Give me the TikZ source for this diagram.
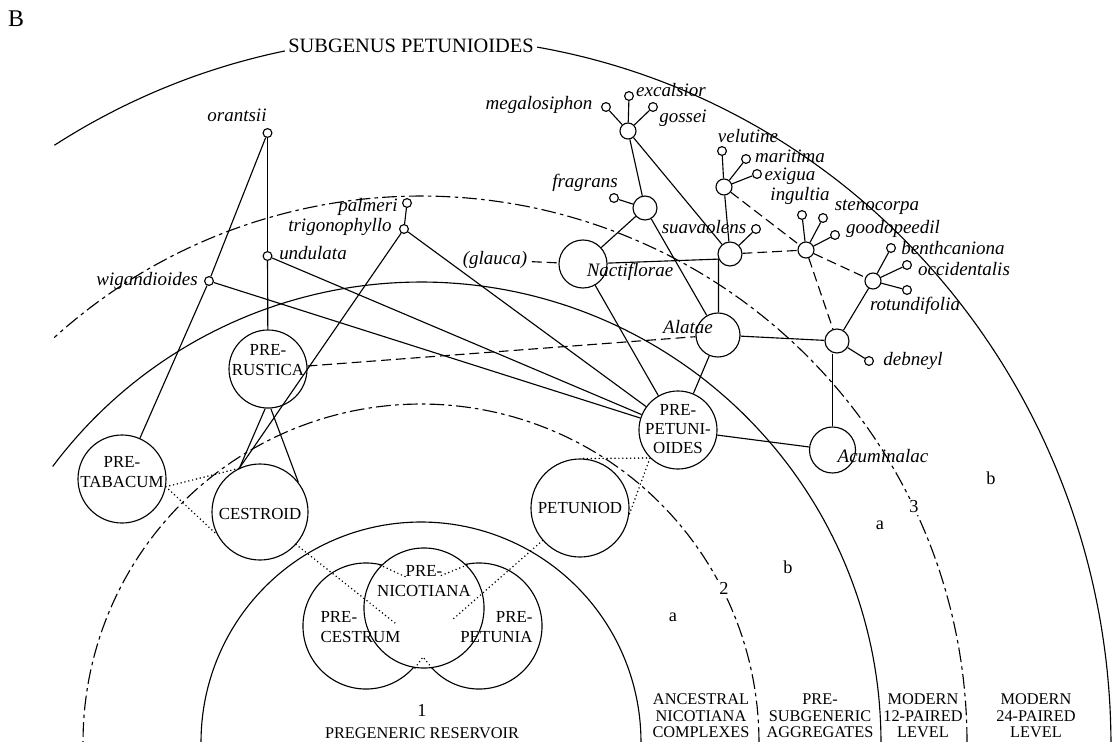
\documentclass[tikz,border=0pt]{standalone}
\usepackage{fontspec}
\setmainfont{Liberation Serif}
\begin{document}
\begin{tikzpicture}[x=0.025cm, y=-0.025cm, line width=0.8pt,
    pool/.style={circle, draw, inner sep=0pt, minimum size=#1},
    leaf/.style={circle, draw, inner sep=0pt, minimum size=0.22cm},
    sp/.style={font=\fontsize{13.5}{15}\selectfont\itshape, inner sep=0pt},
    caps/.style={font=\fontsize{12}{13.6}\selectfont, align=center, inner sep=0pt},
    foot/.style={font=\fontsize{11.6}{11.8}\selectfont, align=center, inner sep=0pt},
    zone/.style={font=\fontsize{13}{15}\selectfont, inner sep=0pt},
    dashlink/.style={dash pattern=on 7pt off 3.5pt},
    dotlink/.style={line width=1.2pt, line cap=round, dash pattern=on 0pt off 2.8pt},
    ringdash/.style={dash pattern=on 10.5pt off 3pt on 2.5pt off 3pt}]

\useasboundingbox (0,0) rectangle (1112,742);

 \def\ox{421}
 \def\oy{742}

%rings
 \draw plot[domain=0:180, samples=100] ({\ox+220*cos(\x)}, {\oy-220*sin(\x)});
 \draw[ringdash] plot[domain=0:180, samples=120] ({\ox+338*cos(\x)}, {\oy-338*sin(\x)});
 \draw plot[domain=0:143.2, samples=120] ({\ox+460*cos(\x)}, {\oy-460*sin(\x)});
 \draw[ringdash] plot[domain=0:132.2, samples=140] ({\ox+546*cos(\x)}, {\oy-546*sin(\x)});
 \draw plot[domain=0:122.1, samples=160] ({\ox+690*cos(\x)}, {745-708*sin(\x)});

 \node[zone, fill=white, inner sep=1.5pt] (two) at (724,588) {2};
 \node[zone, fill=white, inner sep=1.5pt] (three) at (914,507) {3};
 \node[font=\fontsize{14.5}{16}\selectfont, fill=white, inner sep=2.5pt] (subgenus) at (411,46) {SUBGENUS PETUNIOIDES};
 \node[font=\fontsize{17}{20}\selectfont, inner sep=0pt] (panel) at (16,19) {B};

    \foreach \name/\px/\py/\txt in {za1/673/617/a, zb1/788/567/b, za2/880/525/a, zb2/991/478/b, one/422/710/1}{
         \node[zone] (\name) at (\px,\py) {\txt};
    }

%levels
 \node[foot] (reservoir) at (422,733) {PREGENERIC RESERVOIR};
 \node[foot] (colA) at (701,716) {ANCESTRAL\\NICOTIANA\\COMPLEXES};
 \node[foot] (colB) at (820,716) {PRE-\\SUBGENERIC\\AGGREGATES};
 \node[foot] (colC) at (923,716) {MODERN\\12-PAIRED\\LEVEL};
 \node[foot] (colD) at (1036,716) {MODERN\\24-PAIRED\\LEVEL};

%reservoir
 \node[pool=3.15cm] (cestrum) at (366,626) {};
 \node[pool=3.15cm] (petunia) at (479,626) {};
 \node[pool=3.0cm, fill=white] (nico) at (424,608) {};
 \node[caps] (tnico) at (424,581) {PRE-\\NICOTIANA};
 \node[caps, anchor=west, align=left] (tcestrum) at (320,627) {PRE-\\CESTRUM};
 \node[caps, anchor=east, align=right] (tpetunia) at (533,627) {PRE-\\PETUNIA};

%pools
    \foreach \name/\px/\py/\sz in {tab/122/479/2.2cm, rust/268/369/1.95cm, cest/260/512/2.4cm, petuniod/580/508/2.45cm,
                                   prepet/678/430/1.95cm, nact/583/264/1.2cm, alat/718/335/1.1cm, acum/832.5/450/1.15cm}{
         \node[pool=\sz] (\name) at (\px,\py) {};
    }
 \node[caps] (ttab) at (122,472) {PRE-\\TABACUM};
 \node[caps] (trust) at (268,360) {PRE-\\RUSTICA};
 \node[caps] (tcest) at (260,514) {CESTROID};
 \node[caps] (tpetuniod) at (580,508) {PETUNIOD};
 \node[caps] (tprepet) at (678,429) {PRE-\\PETUNI-\\OIDES};

%hubs
    \foreach \name/\px/\py/\sz in {hmeg/628/131/0.4cm, hfra/645/208/0.6cm, hsua/730/254/0.6cm, hvel/724/187/0.4cm,
                                   hing/806/250/0.4cm, hben/873/281/0.4cm, hdeb/837/341/0.6cm}{
         \node[pool=\sz] (\name) at (\px,\py) {};
    }

%leaves
    \foreach \name/\px/\py in {orantsii/267.5/133, undulata/267.5/256, wig/209/281, palmeri/407/203, trig/404/229,
                               megal/606/107, excal/629/96, gossei/653/107, fragr/614/198, suavl/756/229,
                               velut/722/151, marit/746/159, exig/757/174, ingul/802/215, steno/823/218, goodo/835/235,
                               benth/891/248, occid/907/265, rotun/907/290, debne/869/361}{
         \node[leaf] (\name) at (\px,\py) {};
    }

%names
    \foreach \name/\px/\py/\txt in {lorantsii/237/115/orantsii, lundulata/313/253/undulata, lwig/147/281/wigandioides,
                                    lpalmeri/368/207/palmeri, ltrig/340/227/trigonophyllo, lglauca/495/260/{(glauca)},
                                    lmegal/539/105/megalosiphon, lexcal/671/90/excalsior, lgossei/683/118/gossei,
                                    lfragr/585/183/fragrans, lnact/630/272/Nactiflorae, lsuavl/704/227/suavaolens,
                                    lvelut/748/136/velutine, lmarit/790/156/maritima, lexig/790/176/exigua,
                                    lingul/800/196/ingultia, lsteno/877/207/stenocorpa, lgoodo/893/229/goodopeedil,
                                    lbenth/953/248/benthcaniona, loccid/964/269/occidentalis, lrotun/915/306/rotundifolia,
                                    ldebne/913/361/debneyl, lalat/688/327/Alatae, lacum/883/456/Acuminalac}{
         \node[sp] (\name) at (\px,\py) {\txt};
    }

%links
    \foreach \a/\b in {hmeg/megal, hmeg/excal, hmeg/gossei, hvel/velut, hvel/marit, hvel/exig,
                       hing/ingul, hing/steno, hing/goodo, hben/benth, hben/occid, hben/rotun,
                       hdeb/debne, hsua/suavl, hfra/fragr, trig/palmeri,
                       hmeg/hfra, hmeg/hsua, hfra/nact, hfra/alat, nact/prepet, alat/prepet, alat/hdeb,
                       hsua/hvel, hben/hdeb, prepet/acum, trig/prepet, undulata/prepet, wig/prepet,
                       orantsii/undulata, undulata/rust, orantsii/wig, wig/tab}{
         \draw (\a) -- (\b);
    }
 \draw (trig) -- (cest.115);
 \draw (rust.266) -- (cest.115);
 \draw (rust.274) -- (cest.38);
 \draw (nact) -- (hsua.204) -- (hsua.204 |- alat.north);
 \draw (hdeb.south -| acum.north) -- (acum.north);

    \foreach \a/\b in {hsua/hing, hvel/hing, hing/hben, hing/hdeb, rust/alat}{
         \draw[dashlink] (\a) -- (\b);
    }
 \draw[dashlink, shorten <=3pt] (lglauca) -- (nact);

%dotted
 \coordinate (cdot1) at (395,623);
 \coordinate (cdot2) at (380,565);
 \coordinate (cdot3) at (406,577);
 \coordinate (cdot4) at (452,620);
 \coordinate (cdot5) at (467,565);
 \coordinate (cdot6) at (440,576);
 \coordinate (cdot7) at (415,668);
 \coordinate (cdot8) at (423,657);
 \coordinate (cdot9) at (432,668);
 \draw[dotlink] (tab.350) -- (cest.116);
 \draw[dotlink] (tab.350) -- (cest.208);
 \draw[dotlink] (cest.318) -- (cdot1);
 \draw[dotlink] (cdot2) -- (cdot3);
 \draw[dotlink] (petuniod.221) -- (cdot4);
 \draw[dotlink] (cdot5) -- (cdot6);
 \draw[dotlink] (petuniod.86) -- (prepet.225) -- (petuniod.352);
 \draw[dotlink] (cdot7) -- (cdot8) -- (cdot9);

\end{tikzpicture}
\end{document}
